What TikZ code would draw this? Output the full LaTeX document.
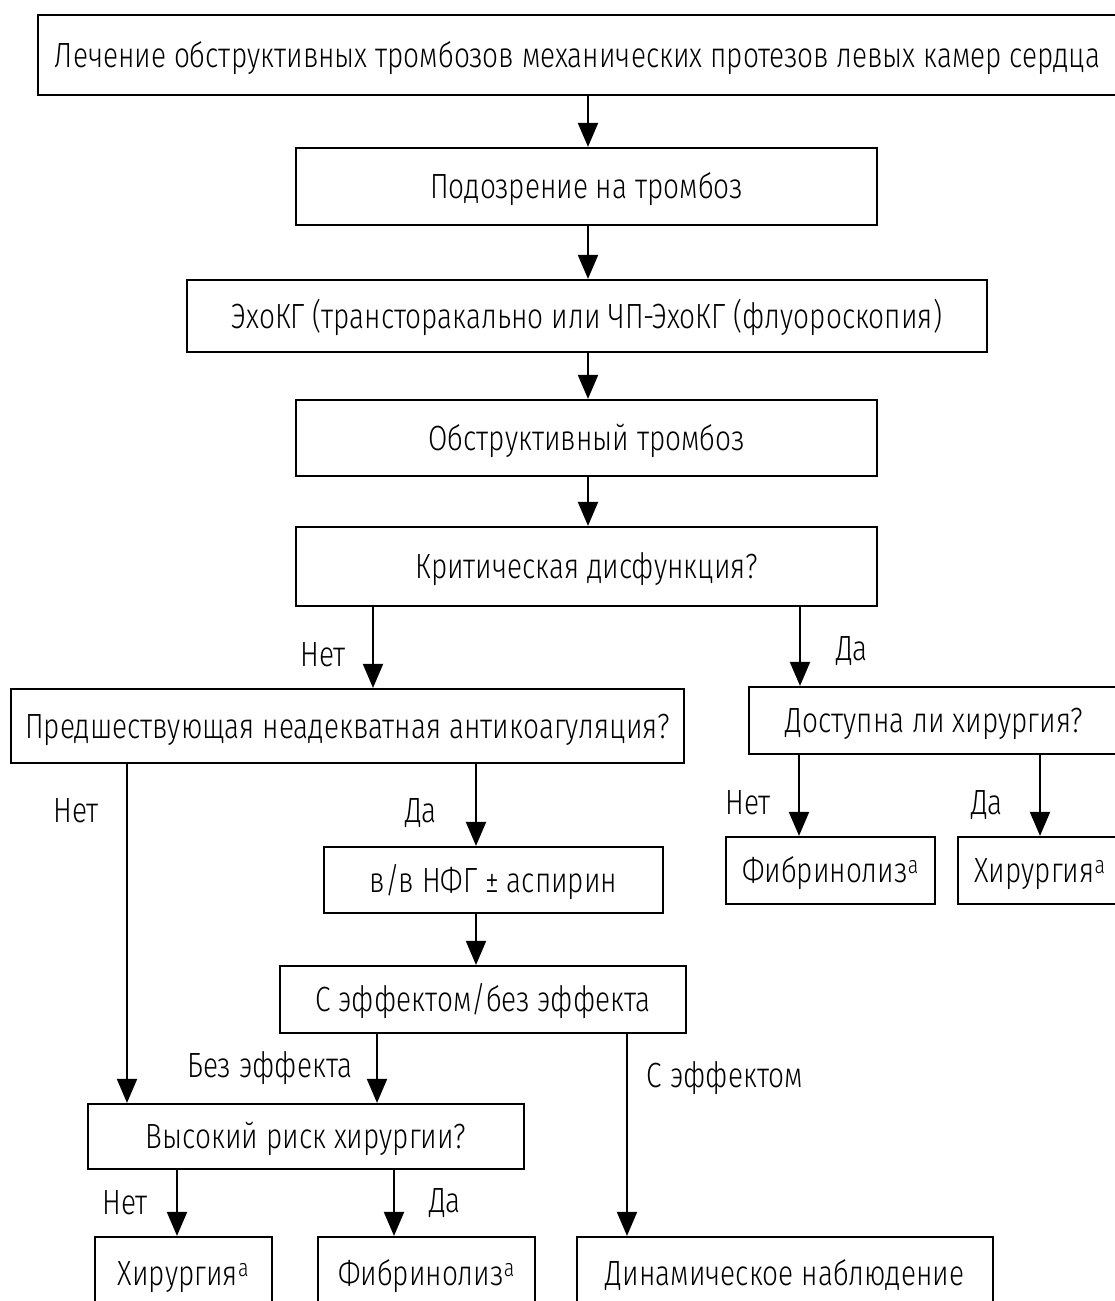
\documentclass[tikz,border=0pt]{standalone}
\usepackage{fontspec}
\setmainfont{Fira Sans}[UprightFont=* Light, FakeStretch=0.80]
\usetikzlibrary{arrows.meta}
\begin{document}
\begin{tikzpicture}[x=1pt,y=-1pt,
  txt/.style={font=\fontsize{35}{40}\selectfont},
  box/.style={draw, line width=2.2pt, inner sep=0pt, txt, text height=33pt, text depth=8.5pt},
  lbl/.style={inner sep=0pt, txt, anchor=base},
  arr/.style={line width=2pt, -{Triangle[length=24pt,width=20pt]}}]
\clip (0,0) rectangle (1115,1301);
\fill[white] (0,0) rectangle (1115,1301);

% boxes
\node[box, minimum width=1079pt, minimum height=80pt] (t1) at (577.5,55) {Лечение обструктивных тромбозов механических протезов левых камер сердца};
\node[box, minimum width=581pt, minimum height=77pt] (t2) at (586.5,186.5) {Подозрение на тромбоз};
\node[box, minimum width=800pt, minimum height=72pt] (t3) at (587,316) {ЭхоКГ (трансторакально или ЧП-ЭхоКГ (флуороскопия)};
\node[box, minimum width=581pt, minimum height=76pt] (t4) at (586.5,438) {Обструктивный тромбоз};
\node[box, minimum width=581pt, minimum height=79pt] (t5) at (586.5,566.5) {Критическая дисфункция?};
\node[box, minimum width=673pt, minimum height=74pt] (t6) at (347.5,726) {Предшествующая неадекватная антикоагуляция?};
\node[box, minimum width=371pt, minimum height=67pt] (t7) at (934.5,720.5) {Доступна ли хирургия?};
\node[box, minimum width=209pt, minimum height=67pt] (t8) at (830.5,870.5) {Фибринолиз\textsuperscript{a}};
\node[box, minimum width=164pt, minimum height=67pt] (t9) at (1040,870.5) {Хирургия\textsuperscript{a}};
\node[box, minimum width=339pt, minimum height=66pt] (t10) at (493.5,880) {в/в НФГ ± аспирин};
\node[box, minimum width=406pt, minimum height=67pt] (t11) at (483,999.5) {С эффектом/без эффекта};
\node[box, minimum width=436pt, minimum height=65pt] (t12) at (306,1136.5) {Высокий риск хирургии?};
\node[box, minimum width=177pt, minimum height=73pt] (t13) at (183.5,1273.5) {Хирургия\textsuperscript{a}};
\node[box, minimum width=217pt, minimum height=73pt] (t14) at (426.5,1273.5) {Фибринолиз\textsuperscript{a}};
\node[box, minimum width=416pt, minimum height=73pt] (t15) at (785,1273.5) {Динамическое наблюдение};

% connectors
\draw[arr] (t1.south -| 588,0) -- (t2.north -| 588,0);
\draw[arr] (t2.south -| 588,0) -- (t3.north -| 588,0);
\draw[arr] (t3.south -| 588,0) -- (t4.north -| 588,0);
\draw[arr] (t4.south -| 588,0) -- (t5.north -| 588,0);
\draw[arr] (t5.south -| 373,0) -- (t6.north -| 373,0);
\draw[arr] (t5.south -| 800,0) -- (t7.north -| 800,0);
\draw[arr] (t7.south -| 799,0) -- (t8.north -| 799,0);
\draw[arr] (t7.south -| 1040,0) -- (t9.north -| 1040,0);
\draw[arr] (t6.south -| 476,0) -- (t10.north -| 476,0);
\draw[arr] (t6.south -| 127,0) -- (t12.north -| 127,0);
\draw[arr] (t10.south -| 476,0) -- (t11.north -| 476,0);
\draw[arr] (t11.south -| 377,0) -- (t12.north -| 377,0);
\draw[arr] (t11.south -| 627,0) -- (t15.north -| 627,0);
\draw[arr] (t12.south -| 177,0) -- (t13.north -| 177,0);
\draw[arr] (t12.south -| 394,0) -- (t14.north -| 394,0);

% branch labels
\node[lbl] (l1) at (323,666) {Нет};
\node[lbl] (l2) at (852,660) {Да};
\node[lbl] (l3) at (748,814) {Нет};
\node[lbl] (l4) at (987,814) {Да};
\node[lbl] (l5) at (421,822) {Да};
\node[lbl] (l6) at (76,822) {Нет};
\node[lbl] (l7) at (270,1077) {Без эффекта};
\node[lbl] (l8) at (725,1087) {С эффектом};
\node[lbl] (l9) at (125,1214) {Нет};
\node[lbl] (l10) at (445,1212) {Да};
\end{tikzpicture}
\end{document}
